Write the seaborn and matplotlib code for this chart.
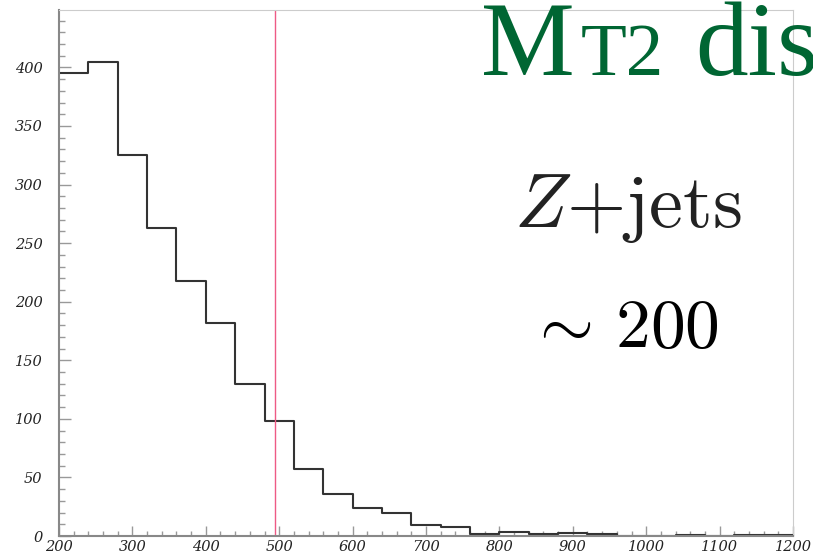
import numpy as np
import pandas as pd
import matplotlib
matplotlib.use("Agg")
import matplotlib.pyplot as plt
import seaborn as sns
from matplotlib.ticker import MultipleLocator

# ---- data ----
bin_edges = list(range(200, 1201, 40))
bin_counts = [395, 405, 325, 263, 218, 182, 130, 98, 57, 36, 24, 20, 9.5, 8,
              2, 3.5, 2, 2.5, 2, 0, 0, 1, 0, 1, 1]
cut_value = 494
x_ticks = [200, 300, 400, 500, 600, 700, 800, 900, 1000, 1100, 1200]
y_ticks = [0, 50, 100, 150, 200, 250, 300, 350, 400]
title_main = "M"
title_sub = "T2"
title_rest = "dis"
label_process = r"$Z{+}\mathrm{jets}$"
label_count = r"$\sim\,200$"

centers = [(a + b) / 2 for a, b in zip(bin_edges[:-1], bin_edges[1:])]
df = pd.DataFrame({"mt2": centers, "n": bin_counts})

sns.set_theme(style="white")
plt.rcParams["mathtext.fontset"] = "cm"

fig = plt.figure(figsize=(8.13, 5.55), dpi=100)
ax = fig.add_axes([59 / 813, 19 / 555, 734 / 813, 526 / 555])

sns.histplot(data=df, x="mt2", weights="n", bins=bin_edges, element="step",
             fill=False, color="#333333", linewidth=1.5, ax=ax)
ax.axvline(cut_value, color="#ee5a85", linewidth=1.0)

ax.set_xlim(200, 1200)
ax.set_ylim(0, 449)
ax.set_xticks(x_ticks)
ax.set_yticks(y_ticks)
ax.xaxis.set_minor_locator(MultipleLocator(20))
ax.yaxis.set_minor_locator(MultipleLocator(10))
ax.set_xlabel("")
ax.set_ylabel("")

for lab in ax.get_xticklabels() + ax.get_yticklabels():
    lab.set_fontfamily("DejaVu Serif")
    lab.set_fontstyle("italic")
    lab.set_fontsize(10.5)
    lab.set_color("#222222")

ax.tick_params(axis="y", which="major", direction="in", length=8.5, width=1,
               color="#999999", pad=12, left=True)
ax.tick_params(axis="y", which="minor", direction="in", length=4.5, width=1,
               color="#999999", left=True)
ax.tick_params(axis="x", which="major", direction="in", length=7, width=1,
               color="#999999", pad=3, bottom=True)
ax.tick_params(axis="x", which="minor", direction="in", length=3.5, width=1,
               color="#999999", bottom=True)

for s in ["left", "bottom"]:
    ax.spines[s].set_color("#888888")
    ax.spines[s].set_linewidth(1.5)
for s in ["top", "right"]:
    ax.spines[s].set_color("#cccccc")
    ax.spines[s].set_linewidth(0.8)

green = "#006633"
fig.text(481 / 813, 1 - 75 / 555, title_main, fontsize=76, color=green,
         family="Liberation Serif", ha="left", va="baseline")
fig.text(581 / 813, 1 - 75 / 555, title_sub, fontsize=54, color=green,
         family="Liberation Serif", ha="left", va="baseline")
fig.text(695 / 813, 1 - 75 / 555, title_rest, fontsize=76, color=green,
         family="Liberation Serif", ha="left", va="baseline")

fig.text(628 / 813, 1 - 227 / 555, label_process, fontsize=55, color="#222222",
         ha="center", va="baseline")
fig.text(623 / 813, 1 - 347 / 555, label_count, fontsize=50, color="black",
         ha="center", va="baseline")

fig.savefig("out.png", dpi=100)
